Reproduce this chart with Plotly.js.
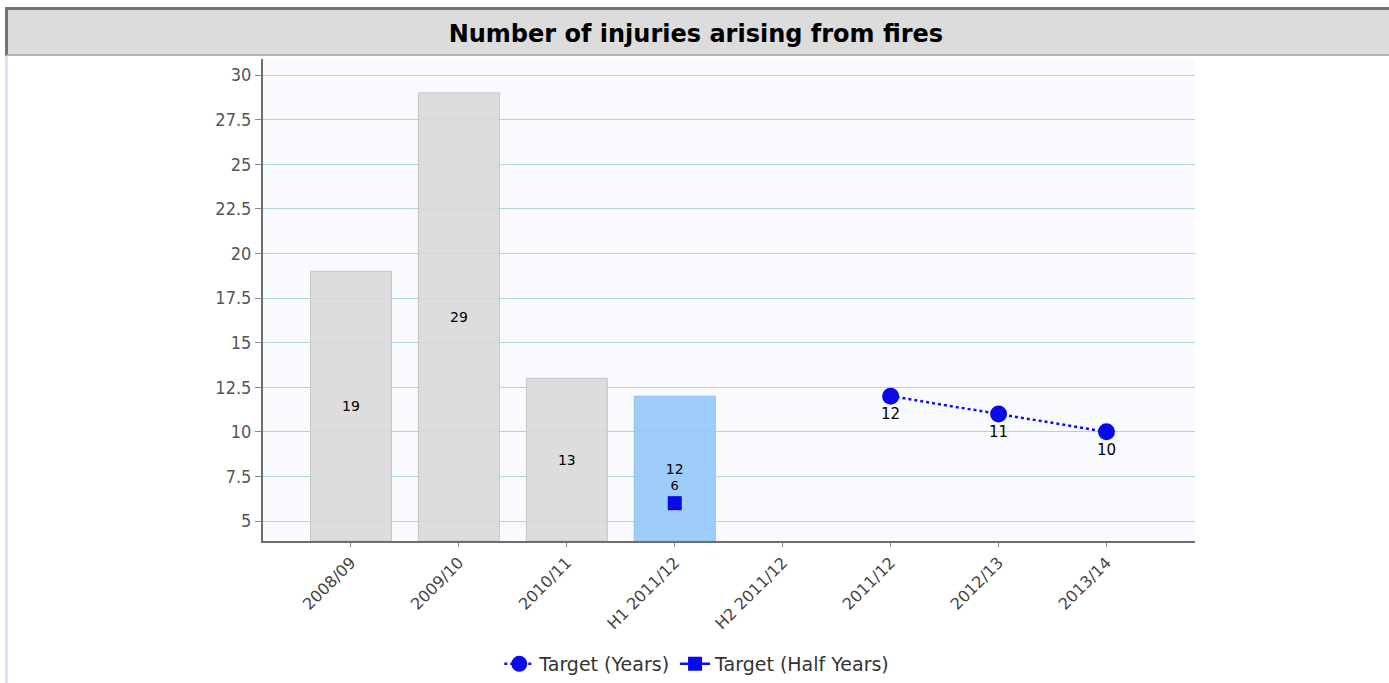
<!DOCTYPE html>
<html>
<head>
<meta charset="utf-8">
<script src="https://cdn.plot.ly/plotly-3.0.1.min.js"></script>
<style>
  html, body { margin: 0; padding: 0; background: #ffffff; overflow: hidden; }
  #header { position: absolute; left: 5px; top: 7px; width: 1384px; height: 44px;
            background: #dcdcdc; border-top: 3px solid #74746a; border-left: 3px solid #74746a;
            border-bottom: 2px solid #b4b4b4; }
  #leftline { position: absolute; left: 5px; top: 56px; width: 3px; height: 627px; background: #e2e2f6; }
  #chart { position: absolute; left: 0; top: 0; width: 1389px; height: 683px; }
</style>
</head>
<body>
<div id="header"></div>
<div id="leftline"></div>
<div id="chart"></div>
<script>
const categories = ['2008/09', '2009/10', '2010/11', 'H1 2011/12', 'H2 2011/12', '2011/12', '2012/13', '2013/14'];
const actualCategories = ['2008/09', '2009/10', '2010/11', 'H1 2011/12'];
const actualValues = [19, 29, 13, 12];
const targetYearsCategories = ['2011/12', '2012/13', '2013/14'];
const targetYearsValues = [12, 11, 10];
const targetHalfCategories = ['H1 2011/12'];
const targetHalfValues = [6];
const yTickValues = [5, 7.5, 10, 12.5, 15, 17.5, 20, 22.5, 25, 27.5, 30];
const titleText = 'Number of injuries arising from fires';

const yMin = 3.88;
const yMax = 30.9;

const barColors = ['rgba(216,216,218,0.88)', 'rgba(216,216,218,0.88)', 'rgba(216,216,218,0.88)', 'rgba(148,200,250,0.9)'];
const barLines = ['#c4c4c6', '#c4c4c6', '#c4c4c6', '#8cc0f0'];

const traces = [
  {
    type: 'bar',
    x: actualCategories,
    base: yMin,
    y: actualValues.map(v => v - yMin),
    width: 0.75,
    marker: { color: barColors, line: { color: barLines, width: 1 } },
    text: actualValues.map(String),
    textposition: 'inside',
    insidetextanchor: 'middle',
    textfont: { family: 'DejaVu Sans', size: 14, color: '#000000' },
    showlegend: false,
    hoverinfo: 'x+text'
  },
  {
    type: 'scatter',
    mode: 'lines+markers+text',
    name: 'Target (Years)',
    x: targetYearsCategories,
    y: targetYearsValues,
    line: { color: '#1010e8', width: 2.5, dash: 'dot' },
    marker: { color: '#0a0ae6', symbol: 'circle', size: 17 },
    text: targetYearsValues.map(String),
    textposition: 'bottom center',
    textfont: { family: 'DejaVu Sans', size: 15, color: '#000000' },
    cliponaxis: false
  },
  {
    type: 'scatter',
    mode: 'lines+markers+text',
    name: 'Target (Half Years)',
    x: targetHalfCategories,
    y: targetHalfValues,
    line: { color: '#1010e8', width: 2.5 },
    marker: { color: '#0a0ae6', symbol: 'square', size: 14 },
    text: targetHalfValues.map(String),
    textposition: 'top center',
    textfont: { family: 'DejaVu Sans', size: 13, color: '#000000' },
    cliponaxis: false
  }
];

const layout = {
  width: 1389,
  height: 683,
  margin: { l: 263, r: 194, t: 59, b: 142 },
  paper_bgcolor: 'rgba(0,0,0,0)',
  plot_bgcolor: '#f8fafd',
  title: {
    text: '<b>' + titleText + '</b>',
    font: { family: 'DejaVu Sans', size: 24, color: '#000000' },
    x: 0.501, xref: 'container', xanchor: 'center',
    y: 0.951, yref: 'container', yanchor: 'middle'
  },
  xaxis: {
    type: 'category',
    categoryorder: 'array',
    categoryarray: categories,
    range: [-0.815, 7.82],
    tickangle: -45,
    ticks: 'outside',
    ticklen: 4,
    tickcolor: '#888888',
    showline: true,
    linecolor: '#6e6e6e',
    linewidth: 2,
    showgrid: false,
    tickfont: { family: 'DejaVu Sans', size: 16, color: '#444444' },
    fixedrange: true
  },
  yaxis: {
    range: [yMin, yMax],
    tickvals: yTickValues,
    ticktext: yTickValues.map(String),
    ticks: 'outside',
    ticklen: 6,
    tickcolor: '#888888',
    showline: true,
    linecolor: '#6e6e6e',
    linewidth: 2,
    showgrid: true,
    gridcolor: '#acd6d6',
    gridwidth: 1,
    zeroline: false,
    tickfont: { family: 'DejaVu Sans Condensed', size: 18, color: '#555555' },
    fixedrange: true
  },
  legend: {
    orientation: 'h',
    x: 0.502, xref: 'container', xanchor: 'center',
    y: 0.0, yref: 'container', yanchor: 'bottom',
    font: { family: 'DejaVu Sans', size: 19, color: '#333333' },
    bgcolor: 'rgba(0,0,0,0)',
    itemwidth: 30
  },
  bargap: 0.25,
  showlegend: true
};

Plotly.newPlot('chart', traces, layout, { displayModeBar: false, staticPlot: true });
</script>
</body>
</html>
